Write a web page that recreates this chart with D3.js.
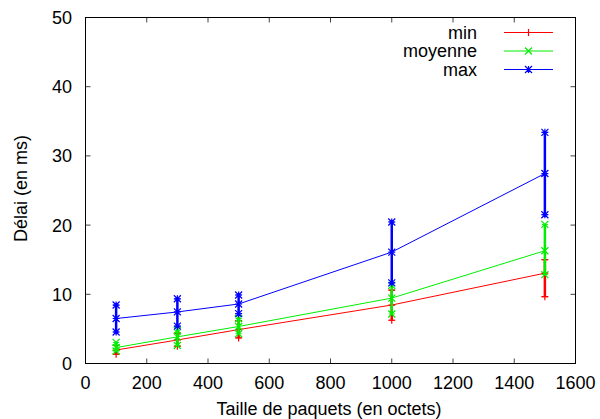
<!DOCTYPE html>
<html><head><meta charset="utf-8">
<script src="https://cdn.jsdelivr.net/npm/d3@7"></script>
<style>body{margin:0;background:#fff}svg{display:block}text{font-family:"Liberation Sans",Arial,sans-serif}</style>
</head><body><svg id="c" width="600" height="419"></svg>
<script>
const sizes = [100, 300, 500, 1000, 1500];
const minMean = [1.95, 3.4, 4.9, 8.45, 13.05];
const minLow  = [1.35, 2.5, 3.7, 6.25, 9.65];
const minHigh = [2.6, 4.4, 6.2, 10.6, 15.0];
const avgMean = [2.3, 3.85, 5.35, 9.45, 16.3];
const avgLow  = [1.8, 2.6, 4.3, 7.15, 12.85];
const avgHigh = [3.05, 4.8, 6.5, 11.3, 20.1];
const maxMean = [6.5, 7.45, 8.6, 16.1, 27.45];
const maxLow  = [4.55, 5.4, 7.2, 11.65, 21.5];
const maxHigh = [8.45, 9.35, 9.9, 20.45, 33.4];
const seriesNames = ["min", "moyenne", "max"];
const seriesColors = ["#ff0000", "#00ee00", "#0000ff"];
const seriesSymbols = ["plus", "cross", "star"];
const xTicks = [0, 200, 400, 600, 800, 1000, 1200, 1400, 1600];
const yTicks = [0, 10, 20, 30, 40, 50];

const series = [
  {mean: minMean, low: minLow, high: minHigh},
  {mean: avgMean, low: avgLow, high: avgHigh},
  {mean: maxMean, low: maxLow, high: maxHigh}
];

const svg = d3.select("#c");
const L = 85.5, R = 575.5, T = 17.5, B = 363.5;
const FS = 18;
const x = d3.scaleLinear().domain([0, 1600]).range([L, R]);
const y = d3.scaleLinear().domain([0, 50]).range([B, T]);

// ticks (inward, mirrored)
const tl = 5;
const gx = svg.append("g");
xTicks.forEach(t => {
  gx.append("line").attr("x1", x(t)).attr("x2", x(t)).attr("y1", B).attr("y2", B - tl).attr("stroke", "#444");
  gx.append("line").attr("x1", x(t)).attr("x2", x(t)).attr("y1", T).attr("y2", T + tl).attr("stroke", "#444");
  gx.append("text").attr("x", x(t)).attr("y", 388.5).attr("text-anchor", "middle").attr("font-size", FS).text(t);
});
yTicks.forEach(t => {
  gx.append("line").attr("x1", L).attr("x2", L + tl).attr("y1", y(t)).attr("y2", y(t)).attr("stroke", "#444");
  gx.append("line").attr("x1", R).attr("x2", R - tl).attr("y1", y(t)).attr("y2", y(t)).attr("stroke", "#444");
  gx.append("text").attr("x", 72).attr("y", y(t) + 6.5).attr("text-anchor", "end").attr("font-size", FS).text(t);
});
svg.append("rect").attr("x", L).attr("y", T).attr("width", R - L).attr("height", B - T)
  .attr("fill", "none").attr("stroke", "#000").attr("stroke-width", 1);

svg.append("text").attr("x", 329).attr("y", 415).attr("text-anchor", "middle").attr("font-size", FS)
  .text("Taille de paquets (en octets)");
svg.append("text").attr("transform", "translate(26.5,188.5) rotate(-90)").attr("text-anchor", "middle").attr("font-size", FS)
  .text("Délai (en ms)");

function symbol(g, cx, cy, kind, color) {
  const s = 3.5;
  const p = d3.path();
  if (kind === "plus" || kind === "star") {
    p.moveTo(cx - s, cy); p.lineTo(cx + s, cy);
    p.moveTo(cx, cy - s); p.lineTo(cx, cy + s);
  }
  if (kind === "cross" || kind === "star") {
    p.moveTo(cx - s, cy - s); p.lineTo(cx + s, cy + s);
    p.moveTo(cx - s, cy + s); p.lineTo(cx + s, cy - s);
  }
  g.append("path").attr("d", p.toString()).attr("stroke", color).attr("stroke-width", 1.2).attr("fill", "none");
}

const line = d3.line().x(d => x(d[0])).y(d => y(d[1]));
series.forEach((s, i) => {
  const g = svg.append("g");
  const c = seriesColors[i];
  g.append("path").attr("d", line(sizes.map((v, k) => [v, s.mean[k]])))
    .attr("fill", "none").attr("stroke", c).attr("stroke-width", 1);
  sizes.forEach((v, k) => {
    g.append("line").attr("x1", x(v)).attr("x2", x(v)).attr("y1", y(s.low[k])).attr("y2", y(s.high[k]))
      .attr("stroke", c).attr("stroke-width", 2.5);
    [s.low[k], s.high[k]].forEach(e => {
      g.append("line").attr("x1", x(v) - 3).attr("x2", x(v) + 3).attr("y1", y(e)).attr("y2", y(e))
        .attr("stroke", c).attr("stroke-width", 1);
      symbol(g, x(v), y(e), seriesSymbols[i], c);
    });
    symbol(g, x(v), y(s.mean[k]), seriesSymbols[i], c);
  });
});

// legend
const legY = [32.5, 51, 69.5];
seriesNames.forEach((n, i) => {
  svg.append("text").attr("x", 477).attr("y", legY[i] + 6).attr("text-anchor", "end").attr("font-size", FS).text(n);
  svg.append("line").attr("x1", 504).attr("x2", 553).attr("y1", legY[i]).attr("y2", legY[i])
    .attr("stroke", seriesColors[i]).attr("stroke-width", 1);
  symbol(svg, 528.5, legY[i], seriesSymbols[i], seriesColors[i]);
});
</script></body></html>
